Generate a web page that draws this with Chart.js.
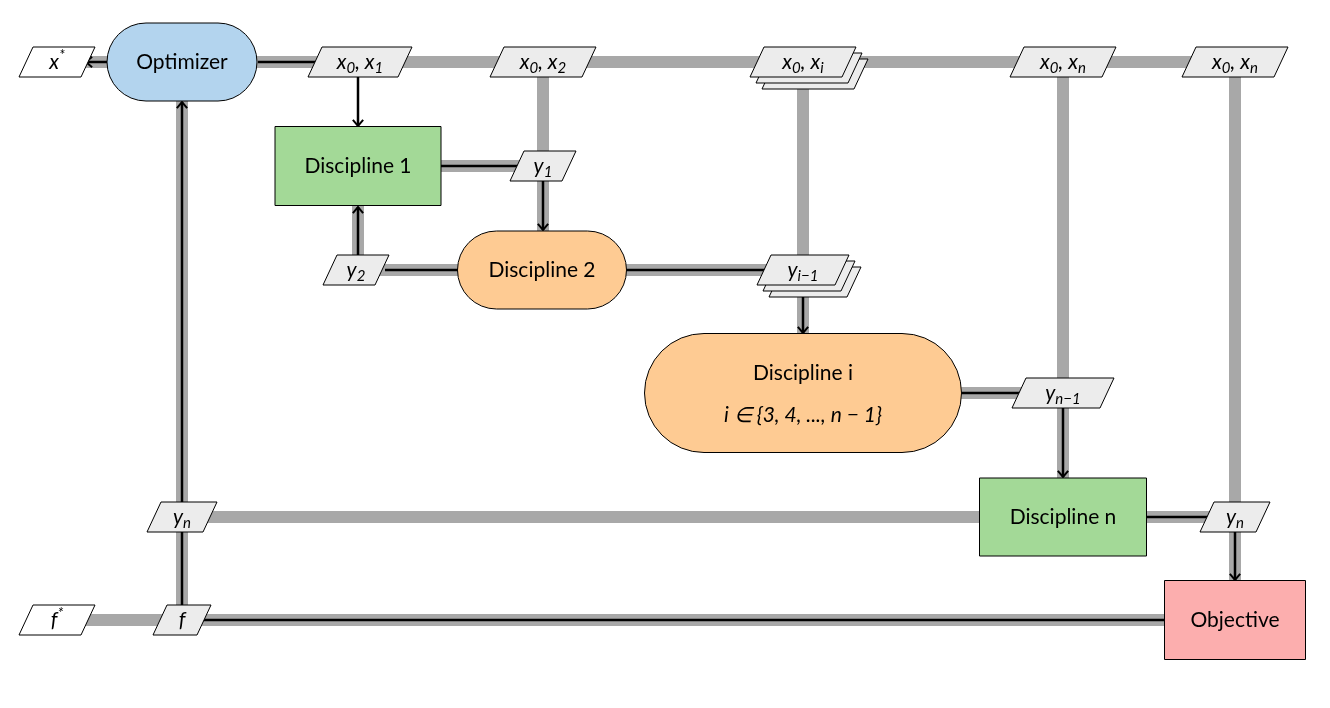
<!DOCTYPE html>
<html><head><meta charset="utf-8">
<script src="https://cdn.jsdelivr.net/npm/chart.js@4"></script>
<style>body{margin:0;background:#fff}</style>
</head><body>
<canvas id="xdsm" width="1330" height="708"></canvas>
<script>
// process nodes (centre, size in diagram units)
const nodeLabels = ['Optimizer', 'Discipline 1', 'Discipline 2', 'Discipline i|i ∈ {3, 4, ..., n − 1}', 'Discipline n', 'Objective'];
const nodeX = [182, 358, 542, 803, 1063, 1235];
const nodeY = [62, 166, 270, 393, 517, 620];
const nodeW = [150, 166, 169, 317, 167, 141];
const nodeH = [78, 79, 78, 119, 78, 79];
const nodeShape = ['round', 'rect', 'round', 'round', 'rect', 'rect'];
const nodeFill = ['#b3d4ee', '#a3d997', '#fecb93', '#fecb93', '#a3d997', '#fcaeae'];

// data blocks
const dataLabels = ['x^*', 'x_0, x_1', 'x_0, x_2', 'x_0, x_i', 'x_0, x_n', 'x_0, x_n', 'y_1', 'y_2', 'y_{i−1}', 'y_{n−1}', 'y_n', 'y_n', 'f^*', 'f'];
const dataX = [57, 360, 543, 803, 1063, 1235, 543, 356, 803, 1063, 182, 1235, 57, 182];
const dataY = [62, 62, 62, 62, 62, 62, 166, 270, 270, 393, 517, 517, 620, 620];
const dataW = [62, 90, 92, 92, 92, 92, 52, 52, 78, 88, 56, 56, 62, 44];
const dataStack = [0, 0, 0, 1, 0, 0, 0, 0, 1, 0, 0, 0, 0, 0];
const dataWhite = [1, 0, 0, 0, 0, 0, 0, 0, 0, 0, 0, 0, 1, 0];

// grey data-flow lines [x1, y1, x2, y2]
const greyLines = [
  [57, 62, 1235, 62], [543, 62, 543, 270], [803, 62, 803, 393], [1063, 62, 1063, 517],
  [1235, 62, 1235, 620], [358, 166, 543, 166], [356, 270, 803, 270], [803, 393, 1063, 393],
  [182, 517, 1235, 517], [57, 620, 1235, 620], [182, 62, 182, 620], [358, 166, 358, 270]
];
// black process lines [x1, y1, x2, y2, arrowhead]
const blackLines = [
  [107, 62, 86, 62, 1], [258, 62, 318, 62, 0], [358, 62, 358, 126, 1],
  [441, 166, 518, 166, 0], [543, 166, 543, 230, 1],
  [458, 270, 385, 270, 0], [358, 270, 358, 207, 1],
  [627, 270, 775, 270, 0], [803, 270, 803, 333, 1],
  [962, 393, 1022, 393, 0], [1063, 393, 1063, 477, 1],
  [1147, 517, 1210, 517, 0], [1235, 517, 1235, 580, 1],
  [1165, 620, 200, 620, 0], [182, 620, 182, 102, 1]
];

const FONT = 'Lato, "Open Sans", sans-serif';

function mathParts(s) {
  const parts = [];
  const re = /([_^])\{([^}]*)\}|([_^])(.)|([^_^]+)/g;
  let m;
  while ((m = re.exec(s))) {
    if (m[1]) parts.push([m[2], m[1]]);
    else if (m[3]) parts.push([m[4], m[3]]);
    else parts.push([m[5], '']);
  }
  return parts;
}

function drawMath(ctx, s, cx, cy) {
  const parts = mathParts(s);
  const fonts = p => p[1] ? 'italic 15px ' + FONT : 'italic 21px ' + FONT;
  let w = 0;
  parts.forEach(p => { ctx.font = fonts(p); w += ctx.measureText(p[0]).width; });
  let x = cx - w / 2;
  ctx.textAlign = 'left';
  ctx.textBaseline = 'middle';
  parts.forEach(p => {
    ctx.font = fonts(p);
    const dy = p[1] === '_' ? 6 : p[1] === '^' ? -7 : 0;
    ctx.fillText(p[0], x, cy + dy);
    x += ctx.measureText(p[0]).width;
  });
}

function para(ctx, cx, cy, w, h, fill) {
  const s = 7;
  ctx.beginPath();
  ctx.moveTo(cx - w / 2 + s, cy - h / 2);
  ctx.lineTo(cx + w / 2 + s, cy - h / 2);
  ctx.lineTo(cx + w / 2 - s, cy + h / 2);
  ctx.lineTo(cx - w / 2 - s, cy + h / 2);
  ctx.closePath();
  ctx.fillStyle = fill;
  ctx.fill();
  ctx.lineWidth = 1;
  ctx.strokeStyle = '#000';
  ctx.stroke();
}

const xdsmPlugin = {
  id: 'xdsm',
  afterDatasetsDraw(chart) {
    const ctx = chart.ctx, sx = chart.scales.x, sy = chart.scales.y;
    const px = v => sx.getPixelForValue(v), py = v => sy.getPixelForValue(v);
    const kx = Math.abs(px(1) - px(0)), ky = Math.abs(py(1) - py(0));
    ctx.save();
    ctx.lineCap = 'butt';
    ctx.strokeStyle = '#a8a8a8';
    ctx.lineWidth = 12;
    greyLines.forEach(l => {
      ctx.beginPath(); ctx.moveTo(px(l[0]), py(l[1])); ctx.lineTo(px(l[2]), py(l[3])); ctx.stroke();
    });
    ctx.strokeStyle = '#000';
    ctx.fillStyle = '#000';
    ctx.lineWidth = 2.5;
    blackLines.forEach(l => {
      const x1 = px(l[0]), y1 = py(l[1]), x2 = px(l[2]), y2 = py(l[3]);
      ctx.beginPath(); ctx.moveTo(x1, y1); ctx.lineTo(x2, y2); ctx.stroke();
      if (l[4]) {
        const a = Math.atan2(y2 - y1, x2 - x1);
        ctx.beginPath();
        ctx.moveTo(x2 - 8 * Math.cos(a - 0.7), y2 - 8 * Math.sin(a - 0.7));
        ctx.lineTo(x2, y2);
        ctx.lineTo(x2 - 8 * Math.cos(a + 0.7), y2 - 8 * Math.sin(a + 0.7));
        ctx.lineWidth = 2; ctx.stroke(); ctx.lineWidth = 2.5;
      }
    });
    // process nodes
    nodeLabels.forEach((lab, i) => {
      const w = nodeW[i] * kx, h = nodeH[i] * ky;
      const x = px(nodeX[i]) - w / 2, y = py(nodeY[i]) - h / 2;
      ctx.beginPath();
      if (nodeShape[i] === 'round') ctx.roundRect(x, y, w, h, h / 2);
      else ctx.rect(x, y, w, h);
      ctx.fillStyle = nodeFill[i]; ctx.fill();
      ctx.lineWidth = 1; ctx.strokeStyle = '#000'; ctx.stroke();
      ctx.fillStyle = '#000';
      const lines = lab.split('|');
      ctx.textAlign = 'center'; ctx.textBaseline = 'middle';
      if (lines.length === 1) {
        ctx.font = '21px ' + FONT;
        ctx.fillText(lab, px(nodeX[i]), py(nodeY[i]));
      } else {
        ctx.font = '21px ' + FONT;
        ctx.fillText(lines[0], px(nodeX[i]), py(nodeY[i]) - 20);
        ctx.font = 'italic 21px ' + FONT;
        ctx.fillText(lines[1], px(nodeX[i]), py(nodeY[i]) + 22);
      }
    });
    // data blocks
    dataLabels.forEach((lab, i) => {
      const cx = px(dataX[i]), cy = py(dataY[i]), w = dataW[i] * kx, h = 30 * ky;
      const fill = dataWhite[i] ? '#fff' : '#ececec';
      if (dataStack[i]) { para(ctx, cx + 12, cy + 12, w, h, fill); para(ctx, cx + 6, cy + 6, w, h, fill); }
      para(ctx, cx, cy, w, h, fill);
      ctx.fillStyle = '#000';
      drawMath(ctx, lab, cx, cy);
    });
    ctx.restore();
  }
};

new Chart(document.getElementById('xdsm'), {
  type: 'scatter',
  data: { datasets: [{ data: nodeX.map((x, i) => ({ x: x, y: nodeY[i] })), pointRadius: 0 }] },
  options: {
    responsive: false,
    animation: false,
    layout: { padding: 0 },
    plugins: { legend: { display: false }, tooltip: { enabled: false } },
    scales: {
      x: { type: 'linear', min: 0, max: 1330, display: false },
      y: { type: 'linear', min: 0, max: 708, reverse: true, display: false }
    }
  },
  plugins: [xdsmPlugin]
});
</script>
</body></html>
